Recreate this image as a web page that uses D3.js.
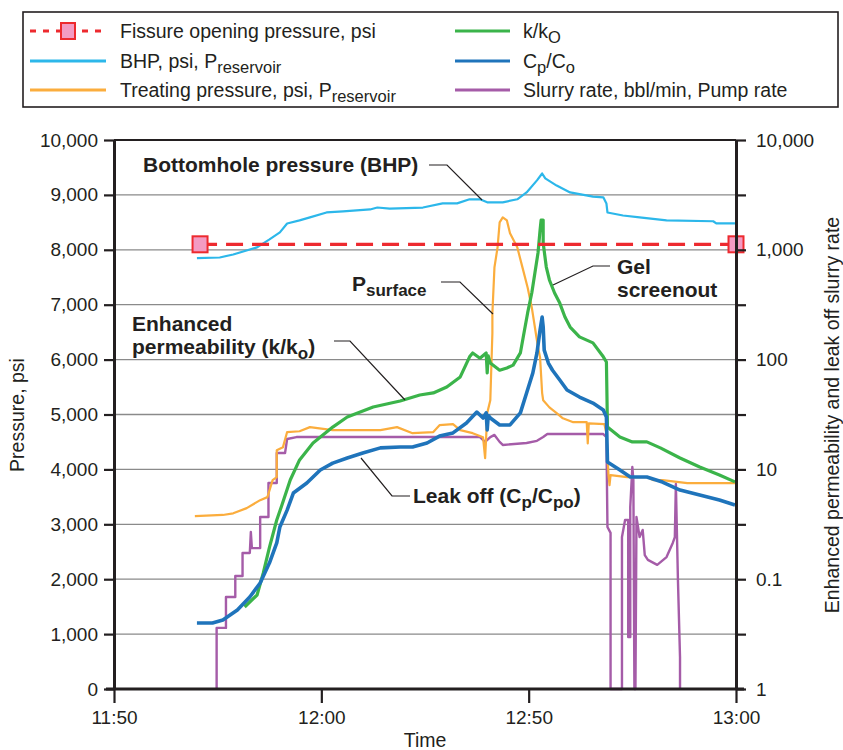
<!DOCTYPE html>
<html><head><meta charset="utf-8">
<script src="https://cdn.jsdelivr.net/npm/d3@7"></script>
<style>
body{margin:0;background:#fff;}
text{font-family:"Liberation Sans",Arial,sans-serif;fill:#231f20;}
</style></head>
<body>
<svg id="chart" width="843" height="750"></svg>
<script>
// ---------- data ----------
const timeTicks = [0, 20, 40, 60];
const timeLabels = ["11:50", "12:00", "12:50", "13:00"];
const psiTicks = [0,1000,2000,3000,4000,5000,6000,7000,8000,9000,10000];
const rightTicks = [0.1, 0.316, 1, 3.16, 10, 31.6, 100, 316, 1000, 3162, 10000];
const rightLabels = {"0.1":"1", "1":"0.1", "10":"10", "100":"100", "1000":"1,000", "10000":"10,000"};

// Fissure opening pressure, psi
const fissure = [[8.3, 8100], [60, 8100]];

// BHP, psi  [time, psi]
const bhp = [[8.0,7850],[10.2,7860],[11.5,7915],[13.8,8045],[15.0,8190],[16.0,8317],[16.7,8480],
[17.9,8535],[18.9,8590],[20.5,8680],[22.1,8700],[24.7,8735],[25.4,8770],[26.6,8750],[29.8,8770],
[31.7,8845],[33.1,8845],[34.3,8920],[35.3,8920],[36.0,8865],[37.5,8865],[38.9,8920],[39.8,9045],
[40.8,9265],[41.3,9390],[41.6,9300],[42.7,9170],[44.0,9045],[46.2,8970],[47.2,8955],[47.5,8845],
[47.6,8680],[49.1,8625],[50.7,8590],[53.3,8535],[57.8,8520],[58.1,8480],[59.9,8480]];

// Treating pressure, psi
const treating = [[7.8,3150],[10.5,3170],[11.5,3200],[12.8,3295],[14.1,3440],[14.8,3495],[15.3,3805],
[15.7,3860],[15.7,4350],[16.3,4405],[16.7,4680],[17.9,4695],[18.9,4770],[21.1,4715],[25.7,4715],
[27.3,4770],[28.8,4660],[30.8,4680],[31.4,4805],[32.7,4825],[33.4,4715],[34.6,4660],[35.6,4585],
[35.8,4205],[35.9,4585],[36.0,5025],[36.3,5260],[36.5,6480],[36.5,6845],[36.7,7680],[37.0,8045],
[37.2,8500],[37.5,8590],[37.9,8535],[38.2,8300],[38.9,8045],[39.4,7680],[39.9,7315],[40.3,6950],
[40.6,6590],[40.9,6225],[41.1,6040],[41.3,5390],[41.4,5260],[42.0,5130],[42.7,5025],[43.3,4930],
[44.3,4860],[45.6,4860],[45.7,4475],[45.8,4840],[47.3,4825],[47.5,4660],[47.7,3895],[47.8,3715],
[47.9,3895],[49.5,3860],[51.4,3860],[52.0,3805],[52.9,3805],[55.3,3750],[59.9,3750]];

// k/ko (right log axis)
const kRatio = [[12.6,0.558],[13.8,0.718],[14.4,1.14],[15.0,1.96],[15.7,3.46],[16.2,4.74],[17.0,8.0],
[17.9,12.2],[19.2,17.4],[21.1,24.3],[22.5,30.0],[25.0,37.0],[27.6,42.0],[29.5,47.6],[30.8,49.7],
[32.1,56.3],[33.4,69.5],[34.3,106],[34.6,115],[35.3,103],[35.9,115],[36.0,75.5],[36.1,108],
[36.3,93],[37.2,80],[37.9,84],[38.5,89],[39.2,115],[39.6,186],[39.9,266],[40.3,404],[40.6,615],
[40.9,935],[41.1,1514],[41.2,1866],[41.4,1866],[41.4,1153],[41.7,697],[42.0,531],[42.5,404],
[43.0,327],[43.5,244],[44.0,198],[44.9,161],[46.2,142],[47.2,106],[47.5,95],[47.6,24.3],
[48.8,19.7],[50.0,17.8],[51.4,17.8],[52.7,15.7],[54.6,12.7],[56.5,10.5],[58.4,8.9],[59.9,7.7]];

// Cp/Co (right log axis)
const cpRatio = [[8.0,0.399],[9.5,0.399],[10.5,0.425],[11.9,0.524],[13.1,0.689],[14.1,0.923],[15.0,1.41],
[15.7,2.14],[16.0,2.99],[16.7,4.26],[17.3,6.09],[18.6,7.52],[19.9,9.88],[21.1,11.4],[22.5,12.7],
[24.0,14.1],[25.7,15.7],[27.6,16.0],[28.8,16.0],[30.2,17.4],[31.4,20.1],[32.7,21.5],[34.0,26.5],
[35.0,33.3],[35.6,29.4],[35.9,32.7],[36.0,22.9],[36.1,31],[36.3,29.4],[37.2,25.4],[38.2,25.4],
[39.2,32.7],[39.8,49.7],[40.4,75.5],[40.8,115],[41.1,186],[41.3,244],[41.4,198],[41.5,122],
[41.9,93],[42.3,80],[43.0,65.2],[43.7,52.8],[44.9,45.6],[46.2,40.2],[47.2,34.8],[47.5,30.0],
[47.6,11.7],[48.8,9.88],[49.8,8.53],[51.4,8.53],[52.9,7.67],[54.6,6.49],[56.5,5.85],[58.4,5.26],[59.9,4.74]];

// Slurry rate, bbl/min (right log axis)
const slurry = [[9.9,0.1],[9.9,0.36],[10.8,0.36],[10.8,0.689],[11.7,0.689],[11.7,1.07],[12.4,1.07],
[12.4,1.73],[13.1,1.73],[13.2,2.69],[13.3,1.92],[14.1,1.92],[14.1,3.68],[14.9,3.68],[14.9,7.52],
[15.7,7.52],[15.7,14.1],[16.5,14.1],[16.7,18.9],[17.6,19.7],[35.3,19.7],[35.8,17.8],[36.3,19.7],
[36.7,20.6],[37.2,17.8],[37.5,16.7],[39.8,17.4],[40.8,18.2],[41.4,19.7],[41.8,21.0],[47.2,21.0],
[47.5,19.7],[47.6,2.99],[47.9,2.64],[47.9,0.1],[49.0,0.1],[49.0,2.42],[49.3,3.46],[49.6,3.46],
[49.6,0.298],[49.8,0.298],[49.8,4.55],[50.0,10.5],[50.1,8.0],[50.2,0.1],[50.3,0.1],[50.4,3.68],
[50.7,2.42],[51.0,2.81],[51.2,1.66],[51.5,1.50],[52.4,1.35],[53.3,1.59],[53.9,2.14],[54.1,2.42],
[54.2,7.36],[54.4,0.98],[54.6,0.195],[54.6,0.1]];

// ---------- layout ----------
const svg = d3.select("#chart");
const L = 114, R = 736, T = 140, B = 689;
const x = d3.scaleLinear().domain([0, 60]).range([L, R]);
const yL = d3.scaleLinear().domain([0, 10000]).range([B, T]);
const yR = d3.scaleLog().domain([0.1, 10000]).range([B, T]);
const dark = "#231f20";

// gridlines
svg.append("g").selectAll("line").data(psiTicks.filter(d => d > 0)).join("line")
  .attr("x1", L).attr("x2", R).attr("y1", d => yL(d)).attr("y2", d => yL(d))
  .attr("stroke", d => d === 10000 ? dark : "#8a8a8a")
  .attr("stroke-width", d => d === 10000 ? 2 : 1.3);

// series
const lineL = d3.line().x(d => x(d[0])).y(d => yL(d[1]));
const lineR = d3.line().x(d => x(d[0])).y(d => yR(d[1]));
const plot = svg.append("g");
plot.append("path").datum(slurry).attr("d", lineR).attr("fill", "none")
  .attr("stroke", "#a55ca8").attr("stroke-width", 2.4).attr("stroke-linejoin", "round");
plot.append("path").datum(treating).attr("d", lineL).attr("fill", "none")
  .attr("stroke", "#fbad3d").attr("stroke-width", 2.2).attr("stroke-linejoin", "round");
plot.append("path").datum(kRatio).attr("d", lineR).attr("fill", "none")
  .attr("stroke", "#3bb44a").attr("stroke-width", 3.2).attr("stroke-linejoin", "round");
plot.append("path").datum(cpRatio).attr("d", lineR).attr("fill", "none")
  .attr("stroke", "#1f74bb").attr("stroke-width", 3.6).attr("stroke-linejoin", "round");
plot.append("path").datum(bhp).attr("d", lineL).attr("fill", "none")
  .attr("stroke", "#2cb7ea").attr("stroke-width", 2.2).attr("stroke-linejoin", "round");
plot.append("path").datum(fissure).attr("d", lineL).attr("fill", "none")
  .attr("stroke", "#ed2a2f").attr("stroke-width", 3.2).attr("stroke-dasharray", "17,9");
plot.selectAll("rect.fm").data(fissure).join("rect").attr("class", "fm")
  .attr("x", d => x(d[0]) - 7.5).attr("y", d => yL(d[1]) - 8).attr("width", 15).attr("height", 16)
  .attr("fill", "#f39bc3").attr("stroke", "#ed2a2f").attr("stroke-width", 2);

// axes
function styleAxis(g) {
  g.select(".domain").attr("stroke", dark).attr("stroke-width", 3);
  g.selectAll(".tick line").attr("stroke", dark).attr("stroke-width", 2.2);
  g.selectAll(".tick text").attr("font-size", 19).attr("fill", dark)
    .attr("font-family", "'Liberation Sans', Arial, sans-serif");
}
svg.append("g").attr("transform", `translate(${L},0)`)
  .call(d3.axisLeft(yL).tickValues(psiTicks).tickFormat(d3.format(",")).tickSize(10).tickPadding(6).tickSizeOuter(0))
  .call(styleAxis);
svg.append("g").attr("transform", `translate(${R},0)`)
  .call(d3.axisRight(yR).tickValues(rightTicks).tickFormat(d => rightLabels[String(d)] || "").tickSize(10).tickPadding(10).tickSizeOuter(0))
  .call(styleAxis);
svg.append("g").attr("transform", `translate(0,${B})`)
  .call(d3.axisBottom(x).tickValues(timeTicks).tickFormat((d, i) => timeLabels[i]).tickSize(14).tickPadding(8).tickSizeOuter(0))
  .call(styleAxis)
  .call(g => g.select(".domain").attr("d", `M${L - 8},0H${R + 8}`));

// axis titles
svg.append("text").attr("transform", "translate(24,415) rotate(-90)").attr("text-anchor", "middle")
  .attr("font-size", 19.5).text("Pressure, psi");
svg.append("text").attr("transform", "translate(839,415) rotate(-90)").attr("text-anchor", "middle")
  .attr("font-size", 19.5).text("Enhanced permeability and leak off slurry rate");
svg.append("text").attr("x", 425).attr("y", 747).attr("text-anchor", "middle")
  .attr("font-size", 19.5).text("Time");

// annotations
const ann = svg.append("g").attr("font-weight", "bold").attr("font-size", 21);
function leader(pts) {
  svg.append("path").attr("d", d3.line()(pts)).attr("fill", "none").attr("stroke", dark).attr("stroke-width", 1.2);
}
ann.append("text").attr("x", 143).attr("y", 172).text("Bottomhole pressure (BHP)");
leader([[429,165],[447,165],[482,200]]);
const ps = ann.append("text").attr("x", 352).attr("y", 291);
ps.append("tspan").text("P");
ps.append("tspan").attr("dy", 5).attr("font-size", 17).text("surface");
leader([[441,282],[460,282],[493,314]]);
ann.append("text").attr("x", 132).attr("y", 331).text("Enhanced");
const pm = ann.append("text").attr("x", 132).attr("y", 354);
pm.append("tspan").text("permeability (k/k");
pm.append("tspan").attr("dy", 5).attr("font-size", 17).text("o");
pm.append("tspan").attr("dy", -5).text(")");
leader([[334,341],[350,341],[405,400]]);
ann.append("text").attr("x", 617).attr("y", 274).text("Gel");
ann.append("text").attr("x", 617).attr("y", 297).text("screenout");
leader([[610,266],[593,266],[553,285]]);
const lk = ann.append("text").attr("x", 413).attr("y", 503);
lk.append("tspan").text("Leak off (C");
lk.append("tspan").attr("dy", 5).attr("font-size", 17).text("p");
lk.append("tspan").attr("dy", -5).text("/C");
lk.append("tspan").attr("dy", 5).attr("font-size", 17).text("po");
lk.append("tspan").attr("dy", -5).text(")");
leader([[410,496],[392,496],[361,458]]);

// legend
const lg = svg.append("g");
lg.append("rect").attr("x", 23).attr("y", 12).attr("width", 815).attr("height", 95)
  .attr("fill", "#fff").attr("stroke", dark).attr("stroke-width", 1.6);
const legendItems = [
  {col: 0, row: 0, color: "#ed2a2f", dash: true, label: ["Fissure opening pressure, psi"]},
  {col: 0, row: 1, color: "#2cb7ea", label: ["BHP, psi, P", "reservoir"]},
  {col: 0, row: 2, color: "#fbad3d", label: ["Treating pressure, psi, P", "reservoir"]},
  {col: 1, row: 0, color: "#3bb44a", label: ["k/k", "O"]},
  {col: 1, row: 1, color: "#1f74bb", label: ["C", "p", "/C", "o"]},
  {col: 1, row: 2, color: "#a55ca8", label: ["Slurry rate, bbl/min, Pump rate"]}
];
const rowY = [31, 61, 90];
legendItems.forEach(it => {
  const x0 = it.col === 0 ? 30 : 455, x1 = it.col === 0 ? 106 : 510;
  const tx = it.col === 0 ? 120 : 523;
  const yy = rowY[it.row];
  if (it.dash) {
    lg.append("line").attr("x1", x0).attr("x2", x1).attr("y1", yy).attr("y2", yy)
      .attr("stroke", it.color).attr("stroke-width", 3).attr("stroke-dasharray", "6,7");
    lg.append("rect").attr("x", (x0 + x1) / 2 - 7).attr("y", yy - 8).attr("width", 14).attr("height", 16)
      .attr("fill", "#f39bc3").attr("stroke", it.color).attr("stroke-width", 2);
  } else {
    lg.append("line").attr("x1", x0).attr("x2", x1).attr("y1", yy).attr("y2", yy)
      .attr("stroke", it.color).attr("stroke-width", 3);
  }
  const t = lg.append("text").attr("x", tx).attr("y", yy + 7).attr("font-size", 19.5);
  it.label.forEach((s, i) => {
    const sp = t.append("tspan").text(s);
    if (i % 2 === 1) sp.attr("dy", 5).attr("font-size", 16.5);
    else if (i > 0) sp.attr("dy", -5);
  });
});
</script>
</body></html>
